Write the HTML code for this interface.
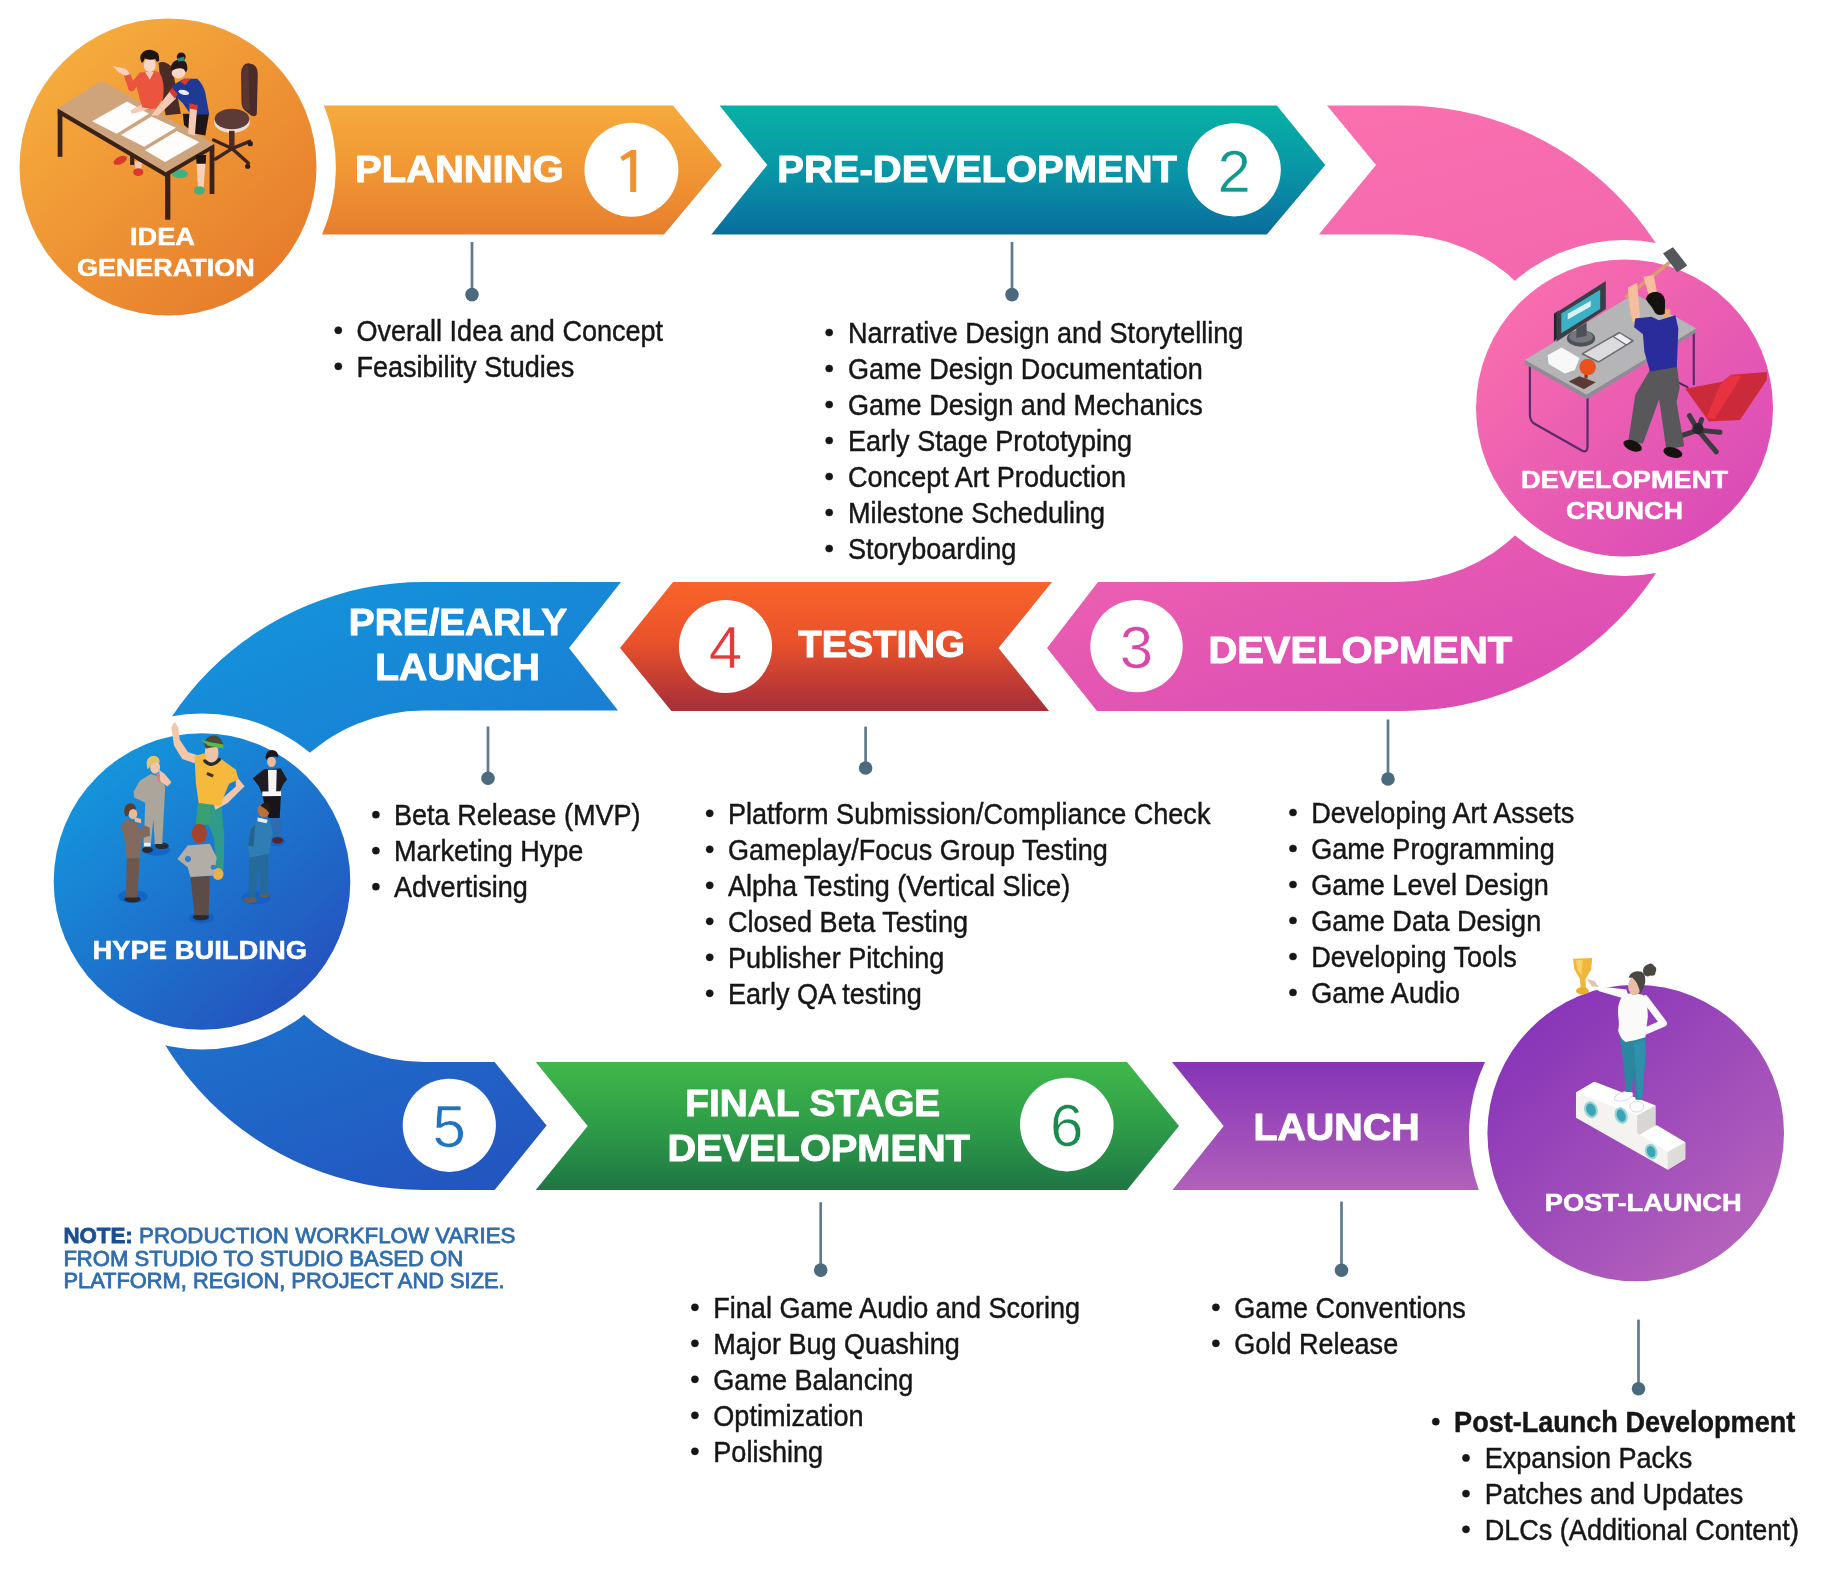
<!DOCTYPE html>
<html><head><meta charset="utf-8"><title>Game Development Workflow</title>
<style>
html,body{margin:0;padding:0;background:#fff}
svg{display:block;filter:blur(0.55px)}
text{font-family:"Liberation Sans",sans-serif}
</style></head><body>
<svg width="1832" height="1570" viewBox="0 0 1832 1570">

<defs>
<linearGradient id="gOrangeC" x1="0.15" y1="0.1" x2="0.85" y2="0.9"><stop offset="0" stop-color="#F6AC3D"/><stop offset="1" stop-color="#E67C2C"/></linearGradient>
<linearGradient id="gOrange" x1="0" y1="0" x2="0" y2="1"><stop offset="0" stop-color="#F6AA3C"/><stop offset="0.45" stop-color="#F19935"/><stop offset="1" stop-color="#E77E2D"/></linearGradient>
<linearGradient id="gTeal" x1="0" y1="0" x2="0" y2="1"><stop offset="0" stop-color="#08B1A4"/><stop offset="0.5" stop-color="#0996A7"/><stop offset="1" stop-color="#0A6D9D"/></linearGradient>
<linearGradient id="gPink" gradientUnits="userSpaceOnUse" x1="1330" y1="105" x2="1500" y2="711"><stop offset="0" stop-color="#FA6FAD"/><stop offset="0.45" stop-color="#F267AF"/><stop offset="1" stop-color="#DB4CB4"/></linearGradient>
<linearGradient id="gPinkC" x1="0.1" y1="0.1" x2="0.9" y2="0.9"><stop offset="0" stop-color="#FA6FAD"/><stop offset="1" stop-color="#D94BB7"/></linearGradient>
<linearGradient id="gRed" x1="0" y1="0" x2="0" y2="1"><stop offset="0" stop-color="#F8642A"/><stop offset="0.45" stop-color="#EA522B"/><stop offset="1" stop-color="#A62E3B"/></linearGradient>
<linearGradient id="gBlue" gradientUnits="userSpaceOnUse" x1="250" y1="582" x2="480" y2="1190"><stop offset="0" stop-color="#1494DB"/><stop offset="0.5" stop-color="#1B78D0"/><stop offset="1" stop-color="#2455BF"/></linearGradient>
<linearGradient id="gBlueC" x1="0.15" y1="0.1" x2="0.85" y2="0.9"><stop offset="0" stop-color="#1496DC"/><stop offset="1" stop-color="#2552BE"/></linearGradient>
<linearGradient id="gGreen" x1="0" y1="0" x2="0" y2="1"><stop offset="0" stop-color="#40B74A"/><stop offset="0.5" stop-color="#2F9D49"/><stop offset="1" stop-color="#1E7644"/></linearGradient>
<linearGradient id="gPurple" x1="0" y1="0" x2="0" y2="1"><stop offset="0" stop-color="#8535B6"/><stop offset="1" stop-color="#B160BA"/></linearGradient>
<linearGradient id="gPurpleC" x1="0.15" y1="0.1" x2="0.85" y2="0.9"><stop offset="0" stop-color="#8734B8"/><stop offset="1" stop-color="#B562BC"/></linearGradient>
</defs>

<g id="bands">
<path d="M323.9,105.5 L673,105.5 L722,165 L664,234.5 L322,234.5 A167.5,167.5 0 0 0 323.9,105.5 Z" fill="url(#gOrange)"/>
<path d="M719.6,105.5 L1276.8,105.5 L1325.3,165 L1266.8,234.5 L711.3,234.5 L767.3,165 Z" fill="url(#gTeal)"/>
<path d="M1327,105.5 L1402,105.5 A302.7,302.7 0 0 1 1402,711 L1097,711 L1047,648 L1098,582 L1397,582 A173.7,173.7 0 0 0 1397,234.5 L1318.8,234.5 L1376,165 Z" fill="url(#gPink)"/>
<path d="M673,582 L1052,582 L998.5,648 L1049,711 L671.4,711 L620,648 Z" fill="url(#gRed)"/>
<path d="M621,582 L424,582 A303.9,303.9 0 0 0 424,1190 L494.6,1190 L546.6,1125.5 L494.6,1062 L424,1062 A175.7,175.7 0 0 1 424,710.5 L618,710.5 L569,648 Z" fill="url(#gBlue)"/>
<path d="M535.7,1062 L1127,1062 L1179,1126 L1127,1190 L535.7,1190 L587.7,1126 Z" fill="url(#gGreen)"/>
<path d="M1172,1062 L1485,1062 A167.5,167.5 0 0 0 1478.8,1190 L1172.5,1190 L1223.7,1126 Z" fill="url(#gPurple)"/>
</g>
<g id="circles">
<circle cx="168" cy="167" r="148.5" fill="url(#gOrangeC)"/>
<circle cx="1624.5" cy="408" r="168" fill="#fff"/>
<circle cx="1624.5" cy="408" r="148.5" fill="url(#gPinkC)"/>
<circle cx="202" cy="881.5" r="168" fill="#fff"/>
<circle cx="202" cy="881.5" r="148.3" fill="url(#gBlueC)"/>
<circle cx="1635.7" cy="1133" r="148.3" fill="url(#gPurpleC)"/>
</g>
<g id="ill-idea" transform="translate(40,30) scale(0.13101)">
<!-- chair -->
<g>
<path d="M1535,330 Q1540,250 1600,255 Q1665,262 1662,340 L1655,640 Q1650,670 1610,650 L1560,610 Q1538,590 1538,540 Z" fill="#4A2B28"/>
<path d="M1545,330 Q1550,270 1590,268 L1600,620 L1565,600 Q1545,585 1546,540 Z" fill="#5A3632"/>
<ellipse cx="1465" cy="705" rx="136" ry="80" fill="#EADCD6"/>
<ellipse cx="1465" cy="680" rx="132" ry="78" fill="#5C3B37"/>
<rect x="1443" y="770" width="42" height="135" fill="#4A2D2A"/>
<g stroke="#40241F" stroke-width="26" stroke-linecap="round" fill="none">
<path d="M1465,905 L1325,840"/><path d="M1465,905 L1600,850"/><path d="M1465,905 L1590,1015"/><path d="M1465,905 L1340,985"/>
</g>
<circle cx="1605" cy="868" r="20" fill="#2F1A17"/><circle cx="1585" cy="1040" r="20" fill="#2F1A17"/>
</g>
<!-- person 1 legs under table -->
<ellipse cx="612" cy="995" rx="55" ry="28" fill="#D8392C" transform="rotate(-25 612 995)"/>
<path d="M720,1000 L780,1010 L770,1075 L730,1070 Z" fill="#F6C9B4"/>
<ellipse cx="750" cy="1085" rx="38" ry="30" fill="#D8392C"/>
<rect x="688" y="955" width="32" height="75" fill="#3B2219"/>
<!-- person 2 green shoe behind -->
<ellipse cx="1068" cy="1098" rx="62" ry="34" fill="#42B07F"/>
<!-- table top -->
<path d="M135,600 L440,405 Q470,388 500,403 L1330,870 L960,1085 Z" fill="#CDA47D"/>
<path d="M135,600 L440,405 Q470,388 500,403 L760,550 L420,760 Z" fill="#D0A57A" opacity="0.6"/>
<path d="M135,600 L960,1085 L1330,870 L1330,903 L960,1122 L135,637 Z" fill="#3B2219"/>
<path d="M150,612 L960,1088 L1318,880" fill="none" stroke="#B8906C" stroke-width="10" opacity="0.0"/>
<rect x="135" y="620" width="36" height="348" fill="#3B2219"/>
<rect x="955" y="1100" width="40" height="348" fill="#3B2219"/>
<rect x="1295" y="890" width="36" height="362" fill="#3B2219"/>
<!-- papers -->
<path d="M398,697 L665,545 L832,640 L585,792 Z" fill="#FFFDFB"/>
<path d="M618,802 L850,660 L1037,747 L795,892 Z" fill="#FFFDFB"/>
<path d="M800,917 L1045,770 L1217,857 L955,1008 Z" fill="#FFFDFB"/>
<!-- long dark hair/shadow between persons -->
<path d="M905,250 Q960,230 1010,290 L1075,640 L960,650 L930,520 Z" fill="#4B2B25"/>
<!-- person 1 -->
<path d="M760,335 Q830,295 910,322 Q955,380 940,520 L885,600 L785,610 L760,520 L735,420 Z" fill="#E9553F"/>
<path d="M800,318 L870,318 L838,380 Z" fill="#F7C6B2"/>
<g stroke="#E9553F" stroke-width="52" stroke-linecap="round" fill="none"><path d="M775,350 L700,440"/><path d="M700,440 L668,350"/></g>
<path d="M552,272 L655,296 L690,335 L650,350 L600,322 Z" fill="#F9D0BC"/>
<path d="M800,560 L690,612 L700,642 L835,602 Z" fill="#F6C9B4"/>
<path d="M790,520 L850,535 L830,600 L775,590 Z" fill="#E9553F"/>
<ellipse cx="838" cy="268" rx="46" ry="52" fill="#FAD6C6"/>
<path d="M765,215 Q770,150 840,150 Q915,155 910,230 Q890,260 880,220 Q840,235 800,215 Q790,250 775,250 Z" fill="#1E1414"/>
<!-- person 2 -->
<path d="M1195,1010 L1262,1010 L1250,1200 L1205,1200 Z" fill="#F9D0BC"/>
<ellipse cx="1217" cy="1225" rx="42" ry="32" fill="#42B07F"/>
<path d="M1190,955 L1268,955 L1265,1020 L1195,1020 Z" fill="#1F1416"/>
<path d="M1090,640 L1290,640 L1262,805 L1180,790 L1100,725 Z" fill="#1F1416"/>
<path d="M1005,425 L1100,372 L1200,372 Q1250,420 1262,480 L1292,645 L1150,645 L1090,560 L1010,480 Z" fill="#1F3A95"/>
<path d="M1070,395 L1100,372 L1150,372 L1110,420 Z" fill="#D8392C"/>
<path d="M990,470 L1040,520 L900,655 L850,650 Z" fill="#F6C9B4"/>
<path d="M985,470 L1010,440 L1050,490 L1030,525 Z" fill="#D8392C"/>
<path d="M1145,570 L1200,590 L1182,805 L1130,790 Z" fill="#F6C9B4"/>
<path d="M1140,560 L1205,575 L1200,610 L1140,600 Z" fill="#D8392C"/>
<ellipse cx="1097" cy="476" rx="42" ry="18" fill="#E8ECF7" transform="rotate(15 1097 476)"/>
<ellipse cx="1057" cy="328" rx="52" ry="42" fill="#FAD6C6"/>
<path d="M995,300 Q1000,230 1070,225 Q1130,230 1125,300 Q1115,340 1100,300 Q1060,280 1010,310 Z" fill="#241616"/>
<circle cx="1078" cy="205" r="34" fill="#241616"/>
<path d="M1050,215 L1100,205 L1105,235 L1055,240 Z" fill="#2E8B7A"/>
</g>
<g id="ill-crunch" transform="translate(1510,240) scale(0.14738)">
<!-- desk legs -->
<g fill="none" stroke="#5A2C6C" stroke-width="15" stroke-linejoin="round">
<path d="M135,835 L135,1185 Q135,1232 175,1252 L490,1430 Q524,1446 526,1400 L526,1070"/>
<path d="M1247,620 L1247,985"/>
</g>
<!-- desk -->
<path d="M100,815 L845,365 L1265,600 L520,1050 Z" fill="#B5B5B8"/>
<path d="M100,815 L520,1050 L1265,600 L1265,626 L520,1078 L100,842 Z" fill="#8D8D93"/>
<!-- monitor -->
<path d="M298,500 L330,478 L330,655 L298,690 Z" fill="#23262B"/>
<path d="M315,492 L650,278 L650,468 L315,690 Z" fill="#3A3F47"/>
<path d="M348,498 L612,338 L612,468 L348,632 Z" fill="#3BB0C7"/>
<path d="M392,500 L548,412 L548,452 L392,540 Z" fill="#D8F1F6"/>
<ellipse cx="482" cy="668" rx="96" ry="56" fill="#4E5156"/>
<ellipse cx="482" cy="655" rx="80" ry="42" fill="#74777C"/>
<path d="M450,600 L520,560 L520,650 L450,665 Z" fill="#4E5156"/>
<!-- keyboard -->
<path d="M490,772 L740,628 L836,684 L600,828 Z" fill="#DCDCDF" stroke="#6A6B70" stroke-width="10" stroke-linejoin="round"/>
<path d="M700,655 L745,630 L830,684 L790,712 Z" fill="#EFEFF1" stroke="#6A6B70" stroke-width="8"/>
<!-- papers -->
<path d="M255,782 L350,730 L472,800 L440,882 L372,906 L262,842 Z" fill="#F8F8F8"/>
<!-- brown pad + ball -->
<path d="M398,960 L470,924 L582,966 L502,1012 Z" fill="#5B3A33"/>
<rect x="505" y="890" width="22" height="50" fill="#7A3A22"/>
<circle cx="527" cy="862" r="56" fill="#E9511F"/>
<!-- hammer -->
<path d="M790,385 L1085,150" stroke="#D9A06B" stroke-width="24" stroke-linecap="round"/>
<path d="M1045,92 L1105,55 L1196,172 L1136,212 Z" fill="#55575C" stroke="#55575C" stroke-width="10" stroke-linejoin="round"/>
<!-- chair -->
<path d="M1125,958 L1210,1002" stroke="#4A2A55" stroke-width="14"/>
<g stroke="#3A3C40" stroke-width="34" stroke-linecap="round" fill="none">
<path d="M1275,1290 L1218,1192"/><path d="M1275,1290 L1300,1218"/><path d="M1275,1290 L1425,1305"/><path d="M1275,1290 L1400,1438"/><path d="M1275,1290 L1130,1340"/>
</g>
<circle cx="1275" cy="1280" r="38" fill="#26272A"/>
<path d="M1190,1010 L1440,962 L1500,915 L1745,895 L1742,950 L1560,1222 L1350,1232 Z" fill="#CB2A3A"/>
<path d="M1428,978 L1500,917 L1572,921 L1388,1216 L1332,1204 Z" fill="#E8323F"/>
<!-- person -->
<path d="M950,880 L1132,850 L1152,1000 L1130,1100 L1182,1400 L1060,1420 L1012,1080 L902,1380 L802,1370 L850,1050 Z" fill="#58585B"/>
<ellipse cx="832" cy="1396" rx="66" ry="34" fill="#17120F" transform="rotate(22 832 1396)"/>
<ellipse cx="1105" cy="1442" rx="66" ry="34" fill="#17120F" transform="rotate(15 1105 1442)"/>
<path d="M800,322 L862,290 L882,520 L832,560 L810,450 Z" fill="#F6BE9C"/>
<path d="M905,250 L975,240 L1000,365 L945,385 Z" fill="#F6BE9C"/>
<path d="M1040,470 L1090,470 L1085,520 L1040,520 Z" fill="#EFA86E"/>
<path d="M850,532 L960,520 L1010,545 L1122,510 L1142,600 L1132,862 L950,892 L912,760 L902,640 L842,592 Z" fill="#2A2C9B"/>
<path d="M922,400 Q935,350 1000,352 Q1060,365 1052,440 L1050,500 Q1010,520 985,495 Q960,450 940,430 Z" fill="#15110F"/>
</g>
<g id="ill-hype" transform="translate(100,715) scale(0.13699)">
<!-- shadows -->
<g fill="#0F5FC4" opacity="0.75">
<ellipse cx="410" cy="985" rx="100" ry="42"/><ellipse cx="240" cy="1325" rx="108" ry="48"/><ellipse cx="740" cy="1480" rx="92" ry="42"/><ellipse cx="1140" cy="1335" rx="108" ry="48"/><ellipse cx="1290" cy="925" rx="62" ry="34"/>
</g>
<!-- woman black jacket -->
<path d="M1250,750 L1332,760 L1322,900 L1262,892 Z" fill="#2A6BB2"/>
<ellipse cx="1297" cy="915" rx="40" ry="24" fill="#55282F"/>
<path d="M1185,590 L1320,590 L1312,752 L1230,752 L1200,650 Z" fill="#17151A"/>
<path d="M1115,462 L1200,395 L1320,390 L1366,470 L1340,502 L1312,562 L1180,572 L1160,520 Z" fill="#1E1C22"/>
<path d="M1226,400 L1290,400 L1286,562 L1230,562 Z" fill="#F5F5F5"/>
<path d="M1185,558 L1322,556 L1322,592 L1185,594 Z" fill="#F5F5F5"/>
<ellipse cx="1252" cy="342" rx="32" ry="38" fill="#E9B99F"/>
<path d="M1208,310 Q1210,255 1258,255 Q1305,260 1300,312 Q1285,300 1255,305 Q1225,300 1215,330 Z" fill="#1B1718"/>
<!-- yellow guy -->
<path d="M715,640 L887,655 L907,900 L902,1130 L850,1130 L832,900 L790,800 L700,800 Z" fill="#2F9C8B"/>
<path d="M715,640 L800,650 L800,800 L700,800 Z" fill="#3C9F72"/>
<ellipse cx="862" cy="1160" rx="40" ry="44" fill="#E8B04C"/>
<path d="M520,92 L545,50 L572,92 L582,180 L642,270 L722,298 L690,352 L600,322 L540,222 Z" fill="#F2C6A8"/>
<path d="M990,440 L1056,520 L932,642 L842,692 L830,652 L902,600 L992,522 Z" fill="#F2C6A8"/>
<path d="M690,300 L762,280 L802,360 L882,320 L992,400 L1012,470 L942,502 L902,600 L882,662 L720,642 L700,500 Z" fill="#F6B93B"/>
<ellipse cx="815" cy="275" rx="50" ry="72" fill="#EFC3A5"/>
<path d="M765,335 Q815,390 872,325" fill="none" stroke="#2D2A22" stroke-width="24" stroke-linecap="round"/>
<path d="M760,215 Q770,150 835,150 Q900,160 900,240 Q840,225 775,245 Z" fill="#4D4A3C"/>
<path d="M735,178 L790,195 L900,215 L900,245 L790,225 Z" fill="#5DB748"/>
<rect x="778" y="425" width="50" height="22" fill="#3A3320" transform="rotate(25 803 436)"/>
<!-- blonde man -->
<ellipse cx="452" cy="955" rx="50" ry="24" fill="#2A2A35"/><ellipse cx="347" cy="985" rx="40" ry="22" fill="#2A2A35"/>
<rect x="320" y="900" width="50" height="60" fill="#EDEDED"/>
<path d="M290,480 L370,430 L440,450 L476,520 L470,640 L456,900 L456,942 L400,942 L390,760 L372,932 L320,932 L330,640 L250,602 L245,560 Z" fill="#ACA59B"/>
<path d="M430,400 L472,430 L522,490 L492,522 L440,482 Z" fill="#F0C5AA"/>
<path d="M412,425 L430,425 L440,490 L425,495 Z" fill="#E07A8A"/>
<ellipse cx="402" cy="382" rx="36" ry="46" fill="#F0C5AA"/>
<path d="M340,350 Q345,300 395,298 Q440,305 435,350 Q400,335 370,360 Q360,400 345,390 Z" fill="#E6C36A"/>
<!-- brown suit man -->
<ellipse cx="237" cy="1345" rx="60" ry="24" fill="#2D2727"/>
<path d="M195,1040 L290,1040 L272,1332 L190,1332 Z" fill="#6E574F"/>
<path d="M150,812 L200,760 L282,790 L362,822 L366,882 L302,902 L292,1045 L195,1045 L175,882 Z" fill="#84695F"/>
<path d="M265,765 L300,775 L315,830 L285,830 Z" fill="#2F7FD0"/>
<path d="M250,745 L300,760 L300,790 L255,780 Z" fill="#E9B99B"/>
<ellipse cx="240" cy="722" rx="32" ry="38" fill="#E9B99B"/>
<path d="M175,700 Q180,645 225,645 Q265,650 262,690 Q235,680 215,700 Q210,745 185,740 Z" fill="#5C3D2E"/>
<!-- blue suit man -->
<ellipse cx="1097" cy="1350" rx="50" ry="22" fill="#6B5A55"/><ellipse cx="1200" cy="1312" rx="40" ry="20" fill="#6B5A55"/>
<path d="M1090,1035 L1232,1010 L1226,1312 L1170,1312 L1160,1100 L1132,1332 L1085,1332 Z" fill="#256A9A"/>
<path d="M1100,832 L1150,760 L1242,770 L1262,862 L1232,1012 L1090,1042 L1080,942 Z" fill="#2E7DB4"/>
<path d="M1100,832 L1132,800 L1122,962 L1080,952 Z" fill="#25638F"/>
<path d="M1150,748 L1225,765 L1215,790 L1150,775 Z" fill="#E8EEF5"/>
<ellipse cx="1195" cy="695" rx="45" ry="52" fill="#B9703F"/>
<path d="M1170,660 Q1190,630 1230,645 Q1255,670 1240,730 Q1225,690 1200,680 Z" fill="#2A1A14"/>
<!-- red hair person (back) -->
<ellipse cx="737" cy="1475" rx="60" ry="24" fill="#2D2727"/>
<path d="M660,1180 L802,1175 L792,1462 L690,1462 Z" fill="#5B4C47"/>
<path d="M565,1052 L640,952 L802,940 L852,1042 L832,1172 L660,1182 L640,1112 Z" fill="#B3ADA8"/>
<circle cx="642" cy="1052" r="22" fill="#2F7FD0"/><circle cx="826" cy="1112" r="18" fill="#2F7FD0"/>
<ellipse cx="725" cy="865" rx="55" ry="72" fill="#A4422B"/>
</g>
<g id="ill-post" transform="translate(1550,945) scale(0.15282)">
<!-- podium -->
<path d="M170,965 L290,895 L690,1050 L690,1180 L885,1290 L885,1400 L770,1470 L170,1130 Z" fill="#F5F3EF"/>
<path d="M170,965 L290,895 L690,1050 L570,1115 Z" fill="#FFFFFF"/>
<path d="M590,1240 L700,1180 L885,1290 L770,1355 Z" fill="#FFFFFF"/>
<path d="M570,1115 L690,1050 L690,1180 L590,1240 L570,1230 Z" fill="#D8D6D2"/>
<path d="M770,1355 L885,1290 L885,1400 L770,1470 Z" fill="#DEDCD8"/>
<g>
<ellipse cx="268" cy="1078" rx="44" ry="56" fill="#9AD3D8" transform="rotate(-20 268 1078)"/><ellipse cx="268" cy="1078" rx="30" ry="42" fill="#3AA4B3" transform="rotate(-20 268 1078)"/>
<ellipse cx="466" cy="1116" rx="42" ry="56" fill="#9AD3D8" transform="rotate(-20 466 1116)"/><ellipse cx="466" cy="1116" rx="28" ry="42" fill="#3AA4B3" transform="rotate(-20 466 1116)"/>
<ellipse cx="662" cy="1352" rx="40" ry="52" fill="#9AD3D8" transform="rotate(-20 662 1352)"/><ellipse cx="662" cy="1352" rx="27" ry="38" fill="#3AA4B3" transform="rotate(-20 662 1352)"/>
</g>
<!-- shoes -->
<ellipse cx="482" cy="990" rx="62" ry="28" fill="#FBFBFB" stroke="#D5D3D8" stroke-width="6" transform="rotate(-15 482 990)"/>
<ellipse cx="568" cy="1058" rx="46" ry="36" fill="#FBFBFB" stroke="#D5D3D8" stroke-width="6"/>
<!-- pants -->
<path d="M455,600 L622,600 L626,700 L602,1012 L560,1012 L547,800 L536,962 L496,962 L480,760 Z" fill="#2B86A0"/>
<path d="M548,640 L622,620 L626,700 L602,1012 L575,1012 Z" fill="#2F90AC"/>
<!-- trophy -->
<path d="M150,90 L276,85 L270,160 L232,222 L236,285 L200,285 L196,222 L160,160 Z" fill="#F0B83A"/>
<ellipse cx="212" cy="300" rx="42" ry="24" fill="#E9AE2E"/>
<path d="M168,100 L215,98 L205,200 L180,160 Z" fill="#F7D067"/>
<!-- arm to trophy -->
<path d="M245,225 L290,235 L330,272 L500,292 L522,362 L322,302 L262,262 Z" fill="#FAFAFA"/>
<path d="M240,222 L292,235 L318,275 L275,272 Z" fill="#EBC2AA"/>
<!-- hip arm -->
<path d="M622,352 L742,512 L632,560" fill="none" stroke="#FAFAFA" stroke-width="46" stroke-linejoin="round" stroke-linecap="round"/>
<path d="M565,560 L625,545 L632,585 L585,600 Z" fill="#EBC2AA"/>
<!-- torso -->
<path d="M464,350 Q438,400 447,470 Q455,520 446,560 Q460,615 494,634 Q560,626 624,604 L640,470 Q642,380 606,326 Q545,308 500,320 Z" fill="#FAFAFA"/>
<!-- head -->
<ellipse cx="553" cy="268" rx="42" ry="60" fill="#E9BDA5"/>
<path d="M515,215 Q530,160 600,175 Q640,200 615,275 L590,320 Q580,250 540,215 Z" fill="#4A4640"/>
<path d="M612,190 Q600,140 640,128 Q665,110 680,135 Q705,150 690,180 Q690,205 655,200 Q630,215 612,190 Z" fill="#4A4640"/>
</g>

<g id="nums" font-size="60" text-anchor="middle" stroke="#fff" stroke-width="0.6">
<circle cx="631.4" cy="169.8" r="47" fill="#fff" stroke="none"/>
<path d="M636.2,150 L636.2,192 L630.2,192 L630.2,156.8 L622.6,161 L620.2,157 L631.2,150 Z" fill="#F0932F" stroke="none"/>
<circle cx="1234.2" cy="169.8" r="46.6" fill="#fff" stroke="none"/>
<text x="1234.2" y="191.60000000000002" fill="#12988F">2</text>
<circle cx="1136.5" cy="646.1" r="46.2" fill="#fff" stroke="none"/>
<text x="1136.5" y="667.9" fill="#D848A9">3</text>
<circle cx="725.5" cy="646.5" r="46.6" fill="#fff" stroke="none"/>
<text x="725.5" y="668.3" fill="#E23B3C">4</text>
<circle cx="449.3" cy="1125.3" r="46.6" fill="#fff" stroke="none"/>
<text x="449.3" y="1147.1" fill="#2272BC">5</text>
<circle cx="1066.8" cy="1124.6" r="46.8" fill="#fff" stroke="none"/>
<text x="1066.8" y="1146.3999999999999" fill="#1C8A4F">6</text>
</g>
<g id="heads" stroke="#fff" stroke-width="1" stroke-linejoin="round">
<text x="355" y="181.6" font-size="37" font-weight="bold" fill="#fff" textLength="208.6" lengthAdjust="spacingAndGlyphs">PLANNING</text>
<text x="777.3" y="181.6" font-size="37" font-weight="bold" fill="#fff" textLength="399.7" lengthAdjust="spacingAndGlyphs">PRE-DEVELOPMENT</text>
<text x="1208.4" y="663.3" font-size="37" font-weight="bold" fill="#fff" textLength="303.8" lengthAdjust="spacingAndGlyphs">DEVELOPMENT</text>
<text x="798.3" y="657.2" font-size="37" font-weight="bold" fill="#fff" textLength="166.6" lengthAdjust="spacingAndGlyphs">TESTING</text>
<text x="348.8" y="635" font-size="37" font-weight="bold" fill="#fff" textLength="218.3" lengthAdjust="spacingAndGlyphs">PRE/EARLY</text>
<text x="375.3" y="680" font-size="37" font-weight="bold" fill="#fff" textLength="164.5" lengthAdjust="spacingAndGlyphs">LAUNCH</text>
<text x="685.2" y="1116.1" font-size="36" font-weight="bold" fill="#fff" textLength="255.0" lengthAdjust="spacingAndGlyphs">FINAL STAGE</text>
<text x="667.4" y="1160.6" font-size="36" font-weight="bold" fill="#fff" textLength="302.5" lengthAdjust="spacingAndGlyphs">DEVELOPMENT</text>
<text x="1253.4" y="1140" font-size="37" font-weight="bold" fill="#fff" textLength="166.2" lengthAdjust="spacingAndGlyphs">LAUNCH</text>
<text x="130" y="244.5" font-size="23" stroke-width="0.5" font-weight="bold" fill="#fff" textLength="65" lengthAdjust="spacingAndGlyphs">IDEA</text>
<text x="77" y="276" font-size="23" stroke-width="0.5" font-weight="bold" fill="#fff" textLength="177.6" lengthAdjust="spacingAndGlyphs">GENERATION</text>
<text x="1521" y="488" font-size="24" stroke-width="0.5" font-weight="bold" fill="#fff" textLength="207" lengthAdjust="spacingAndGlyphs">DEVELOPMENT</text>
<text x="1566" y="518.5" font-size="24" stroke-width="0.5" font-weight="bold" fill="#fff" textLength="117" lengthAdjust="spacingAndGlyphs">CRUNCH</text>
<text x="92.5" y="959" font-size="25" stroke-width="0.5" font-weight="bold" fill="#fff" textLength="214.5" lengthAdjust="spacingAndGlyphs">HYPE BUILDING</text>
<text x="1544.7" y="1211" font-size="24" stroke-width="0.5" font-weight="bold" fill="#fff" textLength="197.1" lengthAdjust="spacingAndGlyphs">POST-LAUNCH</text>
</g>
<g id="leaders" stroke="#5F7A8C" stroke-width="2.7" fill="#4C6A7E">
<line x1="472" y1="242" x2="472" y2="294.6"/>
<circle cx="472" cy="294.6" r="6.8" stroke="none"/>
<line x1="1012" y1="242" x2="1012" y2="294.6"/>
<circle cx="1012" cy="294.6" r="6.8" stroke="none"/>
<line x1="1388" y1="719.5" x2="1388" y2="779"/>
<circle cx="1388" cy="779" r="6.8" stroke="none"/>
<line x1="865.6" y1="726.6" x2="865.6" y2="768"/>
<circle cx="865.6" cy="768" r="6.8" stroke="none"/>
<line x1="488" y1="726.5" x2="488" y2="778.3"/>
<circle cx="488" cy="778.3" r="6.8" stroke="none"/>
<line x1="820.7" y1="1202.2" x2="820.7" y2="1270.1"/>
<circle cx="820.7" cy="1270.1" r="6.8" stroke="none"/>
<line x1="1341.5" y1="1201.6" x2="1341.5" y2="1270.3"/>
<circle cx="1341.5" cy="1270.3" r="6.8" stroke="none"/>
<line x1="1638.5" y1="1319.6" x2="1638.5" y2="1388.7"/>
<circle cx="1638.5" cy="1388.7" r="6.8" stroke="none"/>
</g>
<g id="lists" font-size="29.5" fill="#161616" stroke="#161616" stroke-width="0.45">
<circle cx="338.3" cy="330.3" r="3.6"/>
<text transform="translate(356.4,340.6) scale(0.917,1)">Overall Idea and Concept</text>
<circle cx="338.3" cy="366.3" r="3.6"/>
<text transform="translate(356.4,376.6) scale(0.917,1)">Feasibility Studies</text>
<circle cx="829.2" cy="332.5" r="3.6"/>
<text transform="translate(848.0,342.8) scale(0.917,1)">Narrative Design and Storytelling</text>
<circle cx="829.2" cy="368.5" r="3.6"/>
<text transform="translate(848.0,378.8) scale(0.917,1)">Game Design Documentation</text>
<circle cx="829.2" cy="404.5" r="3.6"/>
<text transform="translate(848.0,414.8) scale(0.917,1)">Game Design and Mechanics</text>
<circle cx="829.2" cy="440.5" r="3.6"/>
<text transform="translate(848.0,450.8) scale(0.917,1)">Early Stage Prototyping</text>
<circle cx="829.2" cy="476.5" r="3.6"/>
<text transform="translate(848.0,486.8) scale(0.917,1)">Concept Art Production</text>
<circle cx="829.2" cy="512.5" r="3.6"/>
<text transform="translate(848.0,522.8) scale(0.917,1)">Milestone Scheduling</text>
<circle cx="829.2" cy="548.5" r="3.6"/>
<text transform="translate(848.0,558.8) scale(0.917,1)">Storyboarding</text>
<circle cx="1293" cy="812.5" r="3.6"/>
<text transform="translate(1311.2,822.8) scale(0.917,1)">Developing Art Assets</text>
<circle cx="1293" cy="848.5" r="3.6"/>
<text transform="translate(1311.2,858.8) scale(0.917,1)">Game Programming</text>
<circle cx="1293" cy="884.5" r="3.6"/>
<text transform="translate(1311.2,894.8) scale(0.917,1)">Game Level Design</text>
<circle cx="1293" cy="920.5" r="3.6"/>
<text transform="translate(1311.2,930.8) scale(0.917,1)">Game Data Design</text>
<circle cx="1293" cy="956.5" r="3.6"/>
<text transform="translate(1311.2,966.8) scale(0.917,1)">Developing Tools</text>
<circle cx="1293" cy="992.5" r="3.6"/>
<text transform="translate(1311.2,1002.8) scale(0.917,1)">Game Audio</text>
<circle cx="709.7" cy="813.3000000000001" r="3.6"/>
<text transform="translate(727.9,823.6) scale(0.917,1)">Platform Submission/Compliance Check</text>
<circle cx="709.7" cy="849.3000000000001" r="3.6"/>
<text transform="translate(727.9,859.6) scale(0.917,1)">Gameplay/Focus Group Testing</text>
<circle cx="709.7" cy="885.3000000000001" r="3.6"/>
<text transform="translate(727.9,895.6) scale(0.917,1)">Alpha Testing (Vertical Slice)</text>
<circle cx="709.7" cy="921.3000000000001" r="3.6"/>
<text transform="translate(727.9,931.6) scale(0.917,1)">Closed Beta Testing</text>
<circle cx="709.7" cy="957.3000000000001" r="3.6"/>
<text transform="translate(727.9,967.6) scale(0.917,1)">Publisher Pitching</text>
<circle cx="709.7" cy="993.3000000000001" r="3.6"/>
<text transform="translate(727.9,1003.6) scale(0.917,1)">Early QA testing</text>
<circle cx="375.9" cy="814.7" r="3.6"/>
<text transform="translate(394.0,825) scale(0.917,1)">Beta Release (MVP)</text>
<circle cx="375.9" cy="850.7" r="3.6"/>
<text transform="translate(394.0,861) scale(0.917,1)">Marketing Hype</text>
<circle cx="375.9" cy="886.7" r="3.6"/>
<text transform="translate(394.0,897) scale(0.917,1)">Advertising</text>
<circle cx="694.9" cy="1307.3" r="3.6"/>
<text transform="translate(713.3,1317.6) scale(0.917,1)">Final Game Audio and Scoring</text>
<circle cx="694.9" cy="1343.3" r="3.6"/>
<text transform="translate(713.3,1353.6) scale(0.917,1)">Major Bug Quashing</text>
<circle cx="694.9" cy="1379.3" r="3.6"/>
<text transform="translate(713.3,1389.6) scale(0.917,1)">Game Balancing</text>
<circle cx="694.9" cy="1415.3" r="3.6"/>
<text transform="translate(713.3,1425.6) scale(0.917,1)">Optimization</text>
<circle cx="694.9" cy="1451.3" r="3.6"/>
<text transform="translate(713.3,1461.6) scale(0.917,1)">Polishing</text>
<circle cx="1215.9" cy="1307.3" r="3.6"/>
<text transform="translate(1234.3,1317.6) scale(0.917,1)">Game Conventions</text>
<circle cx="1215.9" cy="1343.3" r="3.6"/>
<text transform="translate(1234.3,1353.6) scale(0.917,1)">Gold Release</text>
<circle cx="1435.8" cy="1421.7" r="3.6"/>
<text transform="translate(1454.1,1432) scale(0.917,1)" font-weight="bold">Post-Launch Development</text>
<circle cx="1466" cy="1457.9" r="3.6"/>
<text transform="translate(1484.7,1468.2) scale(0.917,1)">Expansion Packs</text>
<circle cx="1466" cy="1493.6000000000001" r="3.6"/>
<text transform="translate(1484.7,1503.9) scale(0.917,1)">Patches and Updates</text>
<circle cx="1466" cy="1529.3000000000002" r="3.6"/>
<text transform="translate(1484.7,1539.6000000000001) scale(0.917,1)">DLCs (Additional Content)</text>
</g>
<g id="note" font-size="22" fill="#2F6DAD" stroke="#2F6DAD" stroke-width="0.8">
<text x="63.4" y="1243.4" textLength="452" lengthAdjust="spacingAndGlyphs"><tspan font-weight="bold" fill="#1B4F92" stroke="#1B4F92">NOTE:</tspan> PRODUCTION WORKFLOW VARIES</text>
<text x="63.4" y="1265.6" textLength="399.8" lengthAdjust="spacingAndGlyphs">FROM STUDIO TO STUDIO BASED ON</text>
<text x="63.4" y="1287.6" textLength="441.3" lengthAdjust="spacingAndGlyphs">PLATFORM, REGION, PROJECT AND SIZE.</text>
</g>
</svg>
</body></html>
